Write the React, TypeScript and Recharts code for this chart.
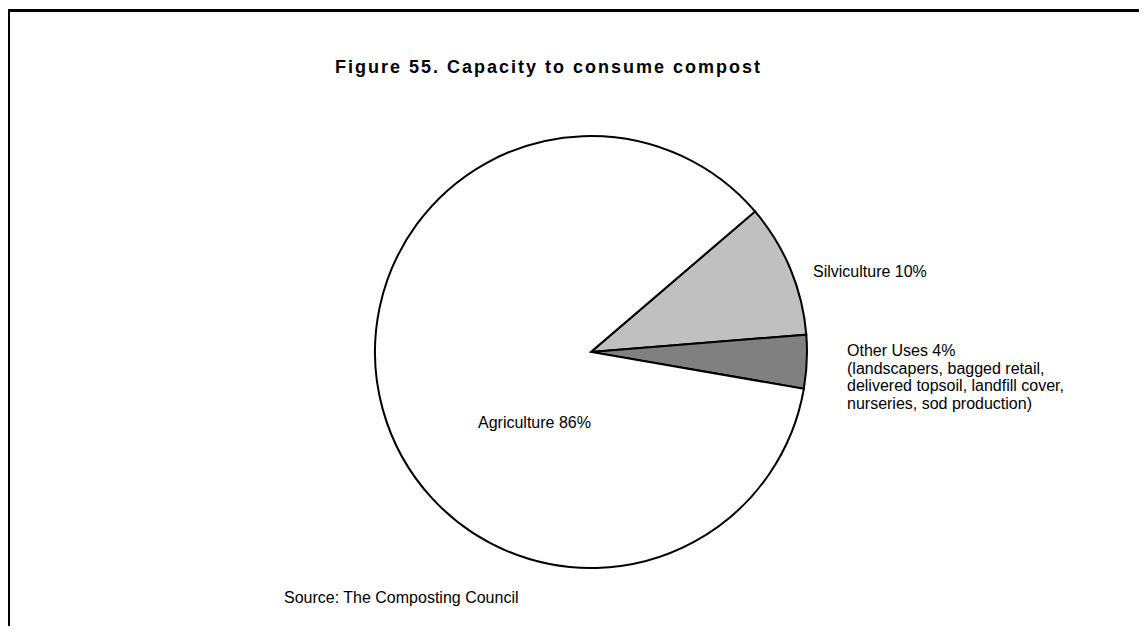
import { PieChart, Pie, Cell } from 'recharts'

// Share of capacity to consume compost, in percent
const categories = ['Silviculture', 'Other Uses', 'Agriculture']
const shares = [10, 4, 86]
const labelLines = [
  ['Silviculture 10%'],
  [
    'Other Uses 4%',
    '(landscapers, bagged retail,',
    'delivered topsoil, landfill cover,',
    'nurseries, sod production)',
  ],
  ['Agriculture 86%'],
]

const sliceColors = ['#c0c0c0', '#808080', '#ffffff']
// label anchor, relative to pie centre
const labelOffsets = [
  { dx: 222, dy: -81 },
  { dx: 256, dy: -2 },
  { dx: -113, dy: 70 },
]

const font = 'Arial, "Liberation Sans", Helvetica, sans-serif'

const data = categories.map((name, i) => ({ name, value: shares[i] }))

function renderLabel(props: any) {
  const { cx, cy, index } = props
  const off = labelOffsets[index]
  const lines: string[] = labelLines[index]
  return (
    <text
      key={`lbl-${index}`}
      x={cx + off.dx}
      y={cy + off.dy}
      fill="#000"
      fontSize={16}
      fontFamily={font}
      dominantBaseline="central"
    >
      {lines.map((l, j) => (
        <tspan key={j} x={cx + off.dx} dy={j === 0 ? 0 : 17.5}>
          {l}
        </tspan>
      ))}
    </text>
  )
}

export default function App() {
  return (
    <div
      style={{
        position: 'relative',
        margin: -8,
        width: 1147,
        height: 634,
        overflow: 'hidden',
        background: '#fff',
        fontFamily: font,
      }}
    >
      <div
        style={{
          position: 'absolute',
          left: 7,
          top: 9,
          width: 1300,
          height: 800,
          borderLeft: '3px solid #000',
          borderTop: '3px solid #000',
        }}
      />
      <div
        style={{
          position: 'absolute',
          left: 335,
          top: 57,
          fontSize: 18,
          lineHeight: '20px',
          fontWeight: 'bold',
          letterSpacing: 2,
          whiteSpace: 'nowrap',
        }}
      >
        Figure 55. Capacity to consume compost
      </div>
      <div style={{ position: 'absolute', left: 0, top: 0 }}>
        <PieChart width={1147} height={634}>
          <Pie
            data={data}
            dataKey="value"
            nameKey="name"
            cx={586}
            cy={347}
            outerRadius={216}
            startAngle={40.6}
            endAngle={-319.4}
            stroke="#000"
            strokeWidth={2}
            label={renderLabel}
            labelLine={false}
            isAnimationActive={false}
          >
            {data.map((entry, i) => (
              <Cell key={`cell-${i}`} fill={sliceColors[i]} />
            ))}
          </Pie>
        </PieChart>
      </div>
      <div
        style={{
          position: 'absolute',
          left: 284,
          top: 589,
          fontSize: 16,
          lineHeight: '18px',
          whiteSpace: 'nowrap',
        }}
      >
        Source: The Composting Council
      </div>
    </div>
  )
}
